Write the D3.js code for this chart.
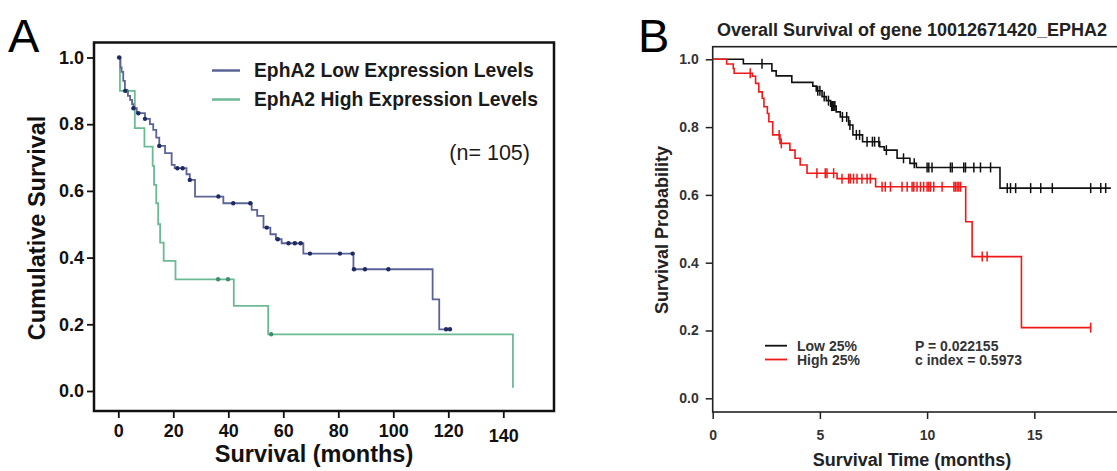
<!DOCTYPE html>
<html><head><meta charset="utf-8">
<script src="https://cdn.jsdelivr.net/npm/d3@7"></script>
<style>body{margin:0;background:#fff}svg{display:block}text{font-family:"Liberation Sans",Arial,sans-serif}</style>
</head><body>
<svg id="c" width="1117" height="471"></svg>
<script>
// ---------- Panel A data ----------
const aXTicks = [0, 20, 40, 60, 80, 100, 120, 140];
const aYTicks = [0, 0.2, 0.4, 0.6, 0.8, 1.0];
const aLowLabel = "EphA2 Low Expression Levels";
const aHighLabel = "EphA2 High Expression Levels";
const aNote = "(n= 105)";
const aLowSteps = [[0,1.0],[0.8,0.97],[1.2,0.957],[1.8,0.93],[2.4,0.90],[3.5,0.885],[4.3,0.873],[5.0,0.86],[5.5,0.848],[6.7,0.833],[9.7,0.816],[11.5,0.80],[12.7,0.783],[13.8,0.76],[14.9,0.735],[17.0,0.713],[19.4,0.678],[20.5,0.668],[24.8,0.65],[26.0,0.633],[27.9,0.583],[38.2,0.563],[48.5,0.543],[50.5,0.525],[52.8,0.49],[55.3,0.47],[57.3,0.455],[59.4,0.443],[67.3,0.412],[85.5,0.365],[114.3,0.275],[116.7,0.185]];
const aLowEnd = 121.2;
const aLowCensor = [0.3,2.5,5.5,7.3,9.7,14.9,21.5,23.4,26.0,36.4,41.8,48.0,54.0,58.0,61.9,64.2,66.3,69.7,80.6,85.2,85.7,89.7,98.2,119.2,120.6];
const aHighSteps = [[0,1.0],[0.6,0.90],[6.0,0.788],[9.5,0.733],[12.5,0.675],[13.0,0.618],[13.8,0.563],[14.5,0.50],[15.2,0.445],[16.5,0.39],[20.8,0.335],[42.0,0.255],[54.5,0.17],[143.5,0.01]];
const aHighEnd = 143.5;
const aHighCensor = [3.0,36.3,39.9,55.6];

// ---------- Panel B data ----------
const bTitle = "Overall Survival of gene 10012671420_EPHA2";
const bXTicks = [0, 5, 10, 15];
const bYTicks = [0, 0.2, 0.4, 0.6, 0.8, 1.0];
const bLowLabel = "Low 25%";
const bHighLabel = "High 25%";
const bStats = ["P = 0.022155", "c index = 0.5973"];
const bLowSteps = [[0,1.0],[1.43,0.987],[2.76,0.966],[2.96,0.951],[3.69,0.932],[4.67,0.921],[4.83,0.907],[5.1,0.89],[5.3,0.878],[5.5,0.862],[5.76,0.845],[5.95,0.83],[6.34,0.806],[6.54,0.777],[6.99,0.757],[7.79,0.742],[8.0,0.732],[8.6,0.708],[9.2,0.693],[9.5,0.681],[13.4,0.62]];
const bLowEnd = 18.57;
const bLowCensor = [2.3,4.9,5.0,5.2,5.4,5.55,5.6,5.65,5.7,6.05,6.25,6.4,6.7,6.85,7.2,7.45,7.55,7.75,8.1,8.9,9.4,10.0,10.08,10.23,11.09,11.17,11.71,11.79,12.18,12.49,12.96,13.74,13.89,14.13,14.83,15.3,15.84,17.63,18.1,18.33];
const bHighSteps = [[0,1],[0.65,0.986],[0.96,0.973],[1.0,0.959],[1.85,0.95],[2.0,0.929],[2.15,0.904],[2.31,0.885],[2.39,0.86],[2.55,0.84],[2.62,0.816],[2.8,0.777],[3.14,0.752],[3.6,0.732],[3.84,0.708],[4.08,0.688],[4.4,0.664],[5.8,0.648],[7.6,0.624],[11.8,0.521],[12.1,0.418],[14.4,0.2085]];
const bHighEnd = 17.63;
const bHighCensor = [1.75,3.1,3.2,4.86,5.25,5.33,5.64,6.03,6.34,6.42,6.57,6.73,6.96,7.2,7.35,7.9,8.05,8.29,8.83,9.07,9.3,9.38,9.53,9.69,9.84,10.0,10.08,10.16,10.31,10.7,11.25,11.32,11.4,11.48,11.56,12.57,12.8,17.63];

// ---------- helpers ----------
const svg = d3.select("#c");
function survAt(steps, t){ let v = steps[0][1]; for (const s of steps){ if (s[0] <= t) v = s[1]; } return v; }
function withEnd(steps, end){ const p = steps.slice(); if (p[p.length-1][0] < end) p.push([end, p[p.length-1][1]]); return p; }

// ================= Panel A =================
const A = {l:94, r:554, t:42.5, b:411};
const axA = d3.scaleLinear().domain([0,140]).range([118.3, 503.3]);
const ayA = d3.scaleLinear().domain([0,1]).range([391, 57.5]);
const gA = svg.append("g");
gA.append("text").attr("x",8).attr("y",52).attr("font-size",47).text("A");
gA.append("rect").attr("x",A.l).attr("y",A.t).attr("width",A.r-A.l).attr("height",A.b-A.t)
  .attr("fill","none").attr("stroke","#111").attr("stroke-width",2.5);

const xa = gA.append("g").attr("transform",`translate(0,${A.b})`)
  .call(d3.axisBottom(axA).tickValues(aXTicks).tickFormat(d3.format("d")).tickSize(7).tickPadding(6));
xa.select(".domain").remove();
xa.selectAll("line").attr("stroke","#111").attr("stroke-width",1.8);
xa.selectAll("text").attr("font-size",18).attr("font-weight","bold").attr("fill","#111")
  .attr("font-family",'"Liberation Sans",Arial,sans-serif');
xa.selectAll(".tick").filter(d=>d===140).select("text").attr("dy","1.0em");

const ya = gA.append("g").attr("transform",`translate(${A.l},0)`)
  .call(d3.axisLeft(ayA).tickValues(aYTicks).tickFormat(d3.format(".1f")).tickSize(7).tickPadding(3));
ya.select(".domain").remove();
ya.selectAll("line").attr("stroke","#111").attr("stroke-width",1.8);
ya.selectAll("text").attr("font-size",18).attr("font-weight","bold").attr("fill","#111")
  .attr("font-family",'"Liberation Sans",Arial,sans-serif');

gA.append("text").attr("x",314).attr("y",462).attr("text-anchor","middle")
  .attr("font-size",23.5).attr("font-weight","bold").attr("fill","#111").text("Survival (months)");
gA.append("text").attr("transform","translate(45,228) rotate(-90)").attr("text-anchor","middle")
  .attr("font-size",23.5).attr("font-weight","bold").attr("fill","#111").text("Cumulative Survival");

const lineA = d3.line().x(d=>axA(d[0])).y(d=>ayA(d[1])).curve(d3.curveStepAfter);
const colLowA = "#5c6397", dotLowA = "#1f2a63", colHighA = "#6cba94", dotHighA = "#3f9070";
gA.append("path").attr("d",lineA(withEnd(aHighSteps,aHighEnd))).attr("fill","none").attr("stroke",colHighA).attr("stroke-width",1.8);
gA.append("path").attr("d",lineA(withEnd(aLowSteps,aLowEnd))).attr("fill","none").attr("stroke",colLowA).attr("stroke-width",1.8);
gA.selectAll("circle.h").data(aHighCensor).enter().append("circle").attr("class","h")
  .attr("cx",d=>axA(d)).attr("cy",d=>ayA(survAt(aHighSteps,d))).attr("r",2.2).attr("fill",dotHighA);
gA.selectAll("circle.l").data(aLowCensor).enter().append("circle").attr("class","l")
  .attr("cx",d=>axA(d)).attr("cy",d=>ayA(survAt(aLowSteps,d))).attr("r",2.2).attr("fill",dotLowA);

// legend A
[[aLowLabel,colLowA,70.5],[aHighLabel,colHighA,99.5]].forEach(([t,c,y])=>{
  gA.append("line").attr("x1",212).attr("x2",240).attr("y1",y).attr("y2",y).attr("stroke",c).attr("stroke-width",2.5);
  gA.append("text").attr("x",254).attr("y",y).attr("dy","0.36em").attr("font-size",19.3).attr("font-weight","bold").attr("fill","#1a1a1a").text(t);
});
gA.append("text").attr("x",530).attr("y",152).attr("dy","0.36em").attr("text-anchor","end")
  .attr("font-size",21.5).attr("fill","#1a1a1a").text(aNote);

// ================= Panel B =================
const B = {l:712.7, r:1130, t:46.7, b:412};
const axB = d3.scaleLinear().domain([0,15]).range([712.7, 1034.3]);
const ayB = d3.scaleLinear().domain([0,1]).range([398.3, 59.3]);
const gB = svg.append("g");
gB.append("text").attr("x",638).attr("y",52).attr("font-size",47).text("B");
gB.append("text").attr("x",912).attr("y",36).attr("text-anchor","middle")
  .attr("font-size",18).attr("font-weight","bold").attr("fill","#222").text(bTitle);
gB.append("rect").attr("x",B.l).attr("y",B.t).attr("width",B.r-B.l).attr("height",B.b-B.t)
  .attr("fill","none").attr("stroke","#222").attr("stroke-width",1.6);

const xb = gB.append("g").attr("transform",`translate(0,${B.b})`)
  .call(d3.axisBottom(axB).tickValues(bXTicks).tickFormat(d3.format("d")).tickSize(7).tickPadding(11));
xb.select(".domain").remove();
xb.selectAll("line").attr("stroke","#222").attr("stroke-width",1.5);
xb.selectAll("text").attr("font-size",14).attr("font-weight","bold").attr("fill","#333")
  .attr("font-family",'"Liberation Sans",Arial,sans-serif');
const yb = gB.append("g").attr("transform",`translate(${B.l},0)`)
  .call(d3.axisLeft(ayB).tickValues(bYTicks).tickFormat(d3.format(".1f")).tickSize(7).tickPadding(7));
yb.select(".domain").remove();
yb.selectAll("line").attr("stroke","#222").attr("stroke-width",1.5);
yb.selectAll("text").attr("font-size",14).attr("font-weight","bold").attr("fill","#333")
  .attr("font-family",'"Liberation Sans",Arial,sans-serif');

gB.append("text").attr("x",912).attr("y",466).attr("text-anchor","middle")
  .attr("font-size",18).attr("font-weight","bold").attr("fill","#222").text("Survival Time (months)");
gB.append("text").attr("transform","translate(668,230) rotate(-90)").attr("text-anchor","middle")
  .attr("font-size",18).attr("font-weight","bold").attr("fill","#222").text("Survival Probability");

const lineB = d3.line().x(d=>axB(d[0])).y(d=>ayB(d[1])).curve(d3.curveStepAfter);
const colLowB = "#111", colHighB = "#f01818";
gB.append("path").attr("d",lineB(withEnd(bLowSteps,bLowEnd))).attr("fill","none").attr("stroke",colLowB).attr("stroke-width",1.6);
gB.append("path").attr("d",lineB(withEnd(bHighSteps,bHighEnd))).attr("fill","none").attr("stroke",colHighB).attr("stroke-width",1.6);
function censorB(times, steps, col, cls){
  gB.selectAll("line."+cls).data(times).enter().append("line").attr("class",cls)
    .attr("x1",d=>axB(d)).attr("x2",d=>axB(d))
    .attr("y1",d=>ayB(survAt(steps,d))-5).attr("y2",d=>ayB(survAt(steps,d))+5)
    .attr("stroke",col).attr("stroke-width",1.5);
}
censorB(bLowCensor,bLowSteps,colLowB,"cl");
censorB(bHighCensor,bHighSteps,colHighB,"ch");

// legend B
[[bLowLabel,colLowB,345.7],[bHighLabel,colHighB,359.5]].forEach(([t,c,y])=>{
  gB.append("line").attr("x1",765).attr("x2",787).attr("y1",y).attr("y2",y).attr("stroke",c).attr("stroke-width",1.8);
  gB.append("text").attr("x",797).attr("y",y).attr("dy","0.36em").attr("font-size",14).attr("font-weight","bold").attr("fill","#333").text(t);
});
bStats.forEach((t,i)=>{
  gB.append("text").attr("x",915).attr("y",345.7+i*14.3).attr("dy","0.36em").attr("font-size",14).attr("font-weight","bold").attr("fill","#333").text(t);
});
</script>
</body></html>
